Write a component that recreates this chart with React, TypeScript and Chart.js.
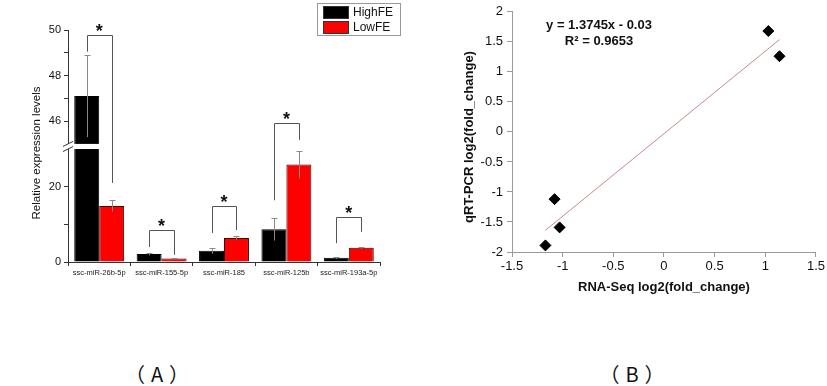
import React, { useEffect, useRef } from 'react';
import { Chart, registerables, LinearScale } from 'chart.js';

// ---------- Panel A data ----------
const CATEGORIES = ['ssc-miR-26b-5p', 'ssc-miR-155-5p', 'ssc-miR-185', 'ssc-miR-125b', 'ssc-miR-193a-5p'];
const HIGH_FE = [47.1, 2.1, 3.0, 8.7, 1.1];
const LOW_FE = [14.9, 0.9, 6.4, 25.9, 3.8];
const HIGH_ERR = [1.8, 0.3, 0.8, 3.0, 0.3];
const LOW_ERR = [1.5, 0.2, 0.5, 3.7, 0.3];
// significance brackets (in axis units of the broken axis)
const BRACKET_TOP = [49.78, 8.5, 14.9, 45.9, 11.9];
const BRACKET_LEFT_END = [49.05, 4.0, 7.7, 16.4, 5.0];
const BRACKET_RIGHT_END = [21, 1.9, 8.5, 45.18, 8.0];
const Y_TICKS_A = [0, 10, 20, 46, 47, 48, 49, 50];
const Y_LABELS_A = [0, 20, 46, 48, 50];
const LEGEND_LABELS = ['HighFE', 'LowFE'];
const Y_TITLE_A = 'Relative expression levels';

// broken axis segments
const LOW_MAX = 30;
const HIGH_MIN = 45;
const HIGH_MAX = 50;
const LOWER_FRAC = 0.487;
const GAP_FRAC = 0.022;

// ---------- Panel B data ----------
const RNA_SEQ = [1.03, 1.14, -1.08, -1.03, -1.17];
const QRT_PCR = [1.68, 1.26, -1.12, -1.59, -1.89];
const SLOPE = 1.3745;
const INTERCEPT = -0.03;
const FIT_X = [-1.17, 1.14];
const EQ_TEXT = 'y = 1.3745x - 0.03';
const R2_TEXT = 'R² = 0.9653';
const X_TITLE_B = 'RNA-Seq log2(fold_change)';
const Y_TITLE_B = 'qRT-PCR log2(fold_change)';

const FONT = '"Liberation Sans", Arial, sans-serif';

class BrokenScale extends LinearScale {
  static id = 'brokenLinear';
  static defaults = (LinearScale as any).defaults;
  getPixelForValue(value: any) {
    const v = Number(value);
    let f: number;
    if (v <= LOW_MAX) f = (v / LOW_MAX) * LOWER_FRAC;
    else if (v >= HIGH_MIN)
      f = LOWER_FRAC + GAP_FRAC + ((v - HIGH_MIN) / (HIGH_MAX - HIGH_MIN)) * (1 - LOWER_FRAC - GAP_FRAC);
    else f = LOWER_FRAC + ((v - LOW_MAX) / (HIGH_MIN - LOW_MAX)) * GAP_FRAC;
    const s: any = this;
    return s.bottom - f * (s.bottom - s.top);
  }
  getValueForPixel(pixel: number) {
    const s: any = this;
    const f = (s.bottom - pixel) / (s.bottom - s.top);
    if (f <= LOWER_FRAC) return (f / LOWER_FRAC) * LOW_MAX;
    if (f >= LOWER_FRAC + GAP_FRAC)
      return HIGH_MIN + ((f - LOWER_FRAC - GAP_FRAC) / (1 - LOWER_FRAC - GAP_FRAC)) * (HIGH_MAX - HIGH_MIN);
    return LOW_MAX + ((f - LOWER_FRAC) / GAP_FRAC) * (HIGH_MIN - LOW_MAX);
  }
}

Chart.register(...registerables, BrokenScale as any);

function drawRotated(ctx: any, text: string, x: number, y: number, font: string) {
  ctx.save();
  ctx.translate(x, y);
  ctx.rotate(-Math.PI / 2);
  ctx.font = font;
  ctx.fillStyle = '#111';
  ctx.textAlign = 'center';
  ctx.textBaseline = 'middle';
  ctx.fillText(text, 0, 0);
  ctx.restore();
}

const panelAPlugin = {
  id: 'panelADecor',
  afterDraw(chart: any) {
    const ctx = chart.ctx;
    const y = chart.scales.y;
    const area = chart.chartArea;
    const metaH = chart.getDatasetMeta(0);
    const metaL = chart.getDatasetMeta(1);
    ctx.save();
    // error bars
    ctx.strokeStyle = '#8a8a8a';
    ctx.lineWidth = 1;
    const drawErr = (meta: any, vals: number[], errs: number[]) => {
      meta.data.forEach((el: any, i: number) => {
        const x = Math.round(el.x) + 0.5;
        const top = Math.round(y.getPixelForValue(vals[i] + errs[i])) + 0.5;
        const bot = y.getPixelForValue(vals[i] - errs[i]);
        ctx.beginPath();
        ctx.moveTo(x, top);
        ctx.lineTo(x, bot);
        ctx.moveTo(x - 3, top);
        ctx.lineTo(x + 3, top);
        ctx.stroke();
      });
    };
    drawErr(metaH, HIGH_FE, HIGH_ERR);
    drawErr(metaL, LOW_FE, LOW_ERR);

    // axis break gap
    const y1 = y.getPixelForValue(HIGH_MIN);
    const y2 = y.getPixelForValue(LOW_MAX);
    ctx.fillStyle = '#ffffff';
    ctx.fillRect(area.left - 7, y1, area.right - area.left + 7, y2 - y1);
    ctx.strokeStyle = '#333';
    ctx.lineWidth = 1;
    [y1, y2].forEach((py) => {
      ctx.beginPath();
      ctx.moveTo(area.left - 5, py + 2.5);
      ctx.lineTo(area.left + 5, py - 2.5);
      ctx.stroke();
    });

    // brackets + stars
    ctx.strokeStyle = '#555';
    ctx.fillStyle = '#111';
    ctx.font = `bold 18px ${FONT}`;
    ctx.textAlign = 'center';
    ctx.textBaseline = 'alphabetic';
    CATEGORIES.forEach((_, i) => {
      const xl = metaH.data[i].x;
      const xr = metaL.data[i].x;
      const yt = y.getPixelForValue(BRACKET_TOP[i]);
      const yl = y.getPixelForValue(BRACKET_LEFT_END[i]);
      const yr = y.getPixelForValue(BRACKET_RIGHT_END[i]);
      ctx.beginPath();
      ctx.moveTo(Math.round(xl) + 0.5, yl);
      ctx.lineTo(Math.round(xl) + 0.5, Math.round(yt) + 0.5);
      ctx.lineTo(Math.round(xr) + 0.5, Math.round(yt) + 0.5);
      ctx.lineTo(Math.round(xr) + 0.5, yr);
      ctx.stroke();
      ctx.fillText('*', (xl + xr) / 2, yt + 2);
    });

    // legend
    const bx = 317.5, by = 3.5, bw = 83, bh = 32;
    ctx.strokeStyle = '#999';
    ctx.strokeRect(bx, by, bw, bh);
    const colors = ['#000000', '#ff0000'];
    ctx.font = `12px ${FONT}`;
    ctx.textAlign = 'left';
    ctx.textBaseline = 'middle';
    LEGEND_LABELS.forEach((lab, i) => {
      const sy = 6 + i * 15;
      ctx.fillStyle = colors[i];
      ctx.fillRect(323, sy, 26, 13);
      ctx.strokeStyle = '#333';
      ctx.strokeRect(323.5, sy + 0.5, 25, 12);
      ctx.fillStyle = '#111';
      ctx.fillText(lab, 353, sy + 7);
    });
    ctx.restore();

    // y-axis title
    drawRotated(ctx, Y_TITLE_A, 37, 153, `11.5px ${FONT}`);
  },
};

const panelBPlugin = {
  id: 'panelBDecor',
  afterDraw(chart: any) {
    const ctx = chart.ctx;
    ctx.save();
    ctx.fillStyle = '#111';
    ctx.font = `bold 13px ${FONT}`;
    ctx.textAlign = 'center';
    ctx.textBaseline = 'middle';
    ctx.fillText(EQ_TEXT, 179, 25);
    ctx.fillText(R2_TEXT, 179, 41);
    ctx.restore();
    drawRotated(ctx, Y_TITLE_B, 49, 137, `bold 13px ${FONT}`);
  },
};

export default function App() {
  const refA = useRef<HTMLCanvasElement>(null);
  const refB = useRef<HTMLCanvasElement>(null);

  useEffect(() => {
    const chartA = new Chart(refA.current as HTMLCanvasElement, {
      type: 'bar',
      data: {
        labels: CATEGORIES,
        datasets: [
          { label: LEGEND_LABELS[0], data: HIGH_FE, backgroundColor: '#000000', borderColor: '#000000', borderWidth: 1 },
          { label: LEGEND_LABELS[1], data: LOW_FE, backgroundColor: '#ff0000', borderColor: '#3a0000', borderWidth: 1 },
        ],
      },
      options: {
        animation: false,
        responsive: false,
        layout: { padding: { left: 0, top: 30, right: 40, bottom: 0 } },
        plugins: { legend: { display: false }, tooltip: { enabled: false } },
        datasets: { bar: { categoryPercentage: 0.8, barPercentage: 1.0 } },
        scales: {
          x: {
            type: 'category',
            offset: true,
            grid: { display: true, drawOnChartArea: false, drawTicks: true, tickLength: 4, color: '#333', offset: true },
            border: { display: true, color: '#333' },
            ticks: { font: { size: 7.5, family: FONT }, color: '#222', maxRotation: 0, minRotation: 0, padding: 2, autoSkip: false },
            afterFit: (s: any) => { s.height = 38; },
          },
          y: {
            type: 'brokenLinear' as any,
            min: 0,
            max: 50,
            position: 'left',
            afterBuildTicks: (s: any) => { s.ticks = Y_TICKS_A.map((v) => ({ value: v })); },
            afterFit: (s: any) => { s.width = 68; },
            grid: { display: true, drawOnChartArea: false, drawTicks: true, tickLength: 4, color: '#333' },
            border: { display: true, color: '#333' },
            ticks: {
              autoSkip: false,
              font: { size: 11, family: FONT },
              color: '#111',
              padding: 3,
              callback: (v: any) => (Y_LABELS_A.includes(Number(v)) ? String(v) : ''),
            },
            title: { display: false },
          } as any,
        },
      },
      plugins: [panelAPlugin],
    } as any);

    const chartB = new Chart(refB.current as HTMLCanvasElement, {
      type: 'scatter',
      data: {
        datasets: [
          {
            label: 'points',
            data: RNA_SEQ.map((x, i) => ({ x, y: QRT_PCR[i] })),
            pointStyle: 'rectRot',
            pointRadius: 5.5,
            backgroundColor: '#000',
            borderColor: '#000',
            order: 0,
          },
          {
            type: 'line',
            label: 'fit',
            data: FIT_X.map((x) => ({ x, y: SLOPE * x + INTERCEPT })),
            borderColor: '#c48a8a',
            borderWidth: 1,
            pointRadius: 0,
            fill: false,
            order: 1,
          },
        ],
      },
      options: {
        animation: false,
        responsive: false,
        layout: { padding: { left: 0, top: 7, right: 10, bottom: 0 } },
        plugins: { legend: { display: false }, tooltip: { enabled: false } },
        scales: {
          x: {
            type: 'linear',
            min: -1.5,
            max: 1.5,
            afterFit: (s: any) => { s.height = 48; },
            grid: { display: true, drawOnChartArea: false, drawTicks: true, tickLength: 5, color: '#9a9a9a' },
            border: { display: true, color: '#9a9a9a' },
            ticks: { stepSize: 0.5, font: { size: 13, family: FONT }, color: '#111', padding: 2, callback: (v: any) => String(Number(v)) },
            title: { display: true, text: X_TITLE_B, font: { size: 13, weight: 'bold', family: FONT }, color: '#111', padding: { top: 0, bottom: 5 } },
          },
          y: {
            type: 'linear',
            min: -2,
            max: 2,
            afterFit: (s: any) => { s.width = 92; },
            grid: { display: true, drawOnChartArea: false, drawTicks: true, tickLength: 5, color: '#9a9a9a' },
            border: { display: true, color: '#9a9a9a' },
            ticks: { stepSize: 0.5, font: { size: 13, family: FONT }, color: '#111', padding: 4, callback: (v: any) => String(Number(v)) },
            title: { display: false },
          },
        },
      },
      plugins: [panelBPlugin],
    } as any);

    return () => {
      chartA.destroy();
      chartB.destroy();
    };
  }, []);

  const labelStyle: any = {
    position: 'absolute',
    width: 100,
    textAlign: 'center',
    fontFamily: '"Noto Sans CJK SC", "Noto Sans", sans-serif',
    fontSize: 20,
    lineHeight: '24px',
    letterSpacing: '6px',
    textIndent: '6px',
    color: '#111',
    top: 362,
    whiteSpace: 'pre',
  };

  return (
    <div style={{ position: 'absolute', left: 0, top: 0, width: 827, height: 386, background: '#fff', overflow: 'hidden' }}>
      <div style={{ position: 'absolute', left: 0, top: 0, width: 420, height: 300 }}>
        <canvas ref={refA} width={420} height={300} />
      </div>
      <div style={{ position: 'absolute', left: 420, top: 0, width: 407, height: 300 }}>
        <canvas ref={refB} width={407} height={300} />
      </div>
      <div style={{ ...labelStyle, left: 107 }}>（A）</div>
      <div style={{ ...labelStyle, left: 582 }}>（B）</div>
    </div>
  );
}
